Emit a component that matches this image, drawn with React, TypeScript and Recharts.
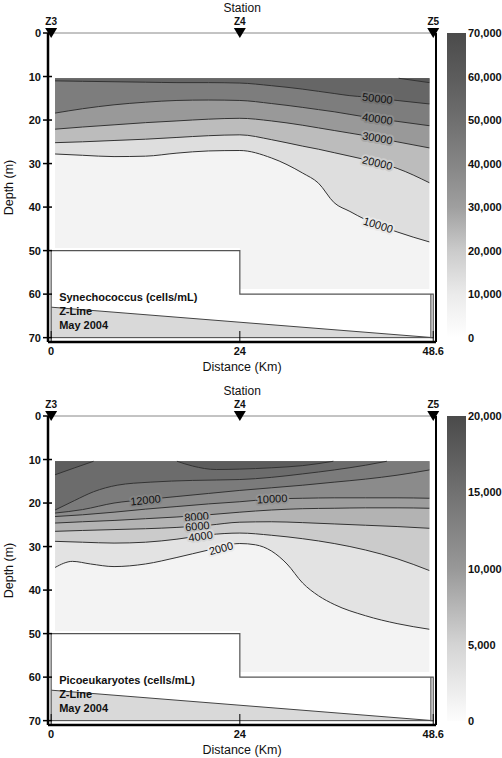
import React from "react";
import {
  ComposedChart,
  XAxis,
  YAxis,
  Area,
  Bar,
  Line,
  Scatter,
  ReferenceLine,
} from "recharts";

const FONT = '"Liberation Sans", Arial, sans-serif';

// transect layout: km along the Z-line, depth in m
const DIST_TICKS = [0, 24, 48.6];
const DEPTH_TICKS = [0, 10, 20, 30, 40, 50, 60, 70];
const STATION_X = [0, 24, 48.6];
const STATION_NAMES = ["Z3", "Z4", "Z5"];

// sampled grid (where the contoured field exists)
const GRID_TOP = 10.4;
const GRID_X = [0.5, 24, 48.1];
const GRID_BOTTOM = [49.4, 58.8, 58.8];

// bottom box and sea floor
const BOX_X = [0, 0, 24, 24, 48.6, 48.6, 48.3, 48.3];
const BOX_D = [70, 50, 50, 60, 60, 70, 70, 60];
const SEABED_X = [0, 48.6];
const SEABED_D = [63, 70];

// ---- Synechococcus contours (depth of each isoline)
const SYN_X = [0.5, 4, 8, 12, 16, 20, 24, 28, 32, 34, 36, 38, 40, 44, 48.1];
const SYN_10000 = [27.8, 28.1, 28.4, 28.3, 27.6, 27.1, 27.0, 28.7, 32.2, 34.5, 39.0, 41.0, 42.9, 45.7, 48.0];
const SYN_20000 = [25.2, 25.0, 24.7, 24.4, 24.0, 23.6, 23.4, 24.5, 26.0, 26.7, 27.5, 28.3, 29.1, 31.1, 34.4];
const SYN_30000 = [22.1, 21.6, 21.1, 20.6, 20.2, 19.8, 19.6, 20.2, 21.2, 21.8, 22.4, 23.0, 23.6, 25.0, 26.4];
const SYN_40000 = [18.4, 17.4, 16.5, 15.9, 15.5, 15.4, 15.5, 16.2, 17.1, 17.6, 18.1, 18.7, 19.3, 20.3, 21.3];
const SYN_50000 = [11.0, 11.1, 11.2, 11.3, 11.4, 11.4, 11.5, 12.1, 12.9, 13.4, 13.9, 14.4, 14.7, 15.5, 16.3];
const SYN_60000_X = [44.2, 48.1];
const SYN_60000 = [10.4, 11.4];

const SYN_LABELS = ["50000", "40000", "30000", "20000", "10000"];
const SYN_LABEL_X = [41.5, 41.5, 41.5, 41.5, 41.6];
const SYN_LABEL_D = [15.0, 19.7, 24.1, 29.8, 44.1];
const SYN_SCALE_TICKS = [0, 10000, 20000, 30000, 40000, 50000, 60000, 70000];
const SYN_NOTE = ["Synechococcus (cells/mL)", "Z-Line", "May 2004"];

// ---- Picoeukaryote contours
const PICO_X = [0.5, 4, 8, 12, 16, 20, 24, 28, 32, 36, 40, 44, 48.1];
const PICO_4000 = [28.8, 29.0, 29.2, 29.0, 28.3, 27.3, 26.9, 27.4, 28.2, 29.3, 30.8, 32.8, 35.5];
const PICO_6000 = [26.5, 26.3, 26.1, 25.9, 25.6, 25.1, 24.4, 24.3, 24.5, 24.8, 25.1, 25.4, 25.8];
const PICO_8000 = [24.6, 24.3, 24.0, 23.6, 23.2, 22.7, 22.1, 21.6, 21.3, 21.2, 21.1, 21.1, 21.2];
const PICO_10000 = [23.1, 22.7, 22.1, 21.4, 20.8, 20.2, 19.7, 19.1, 18.9, 18.8, 18.8, 18.8, 18.9];
const PICO_12000 = [22.3, 21.5, 20.0, 19.2, 18.5, 17.8, 17.1, 16.5, 15.9, 15.2, 14.5, 13.6, 12.4];
const PICO_2000_X = [0.5, 2.7, 5, 8, 12, 16, 20, 24, 26, 28, 30, 32, 34, 36, 40, 44, 48.1];
const PICO_2000 = [34.8, 33.4, 34.0, 34.6, 34.0, 32.5, 30.8, 29.3, 29.6, 31.0, 34.0, 38.4, 41.3, 43.3, 45.9, 47.7, 49.0];
const PICO_14000_X = [0.5, 3, 5.4, 8.4, 12.6, 18, 24, 28, 32, 36, 40, 42.7];
const PICO_14000 = [21.6, 19.4, 17.4, 15.9, 15.2, 14.8, 14.6, 14.1, 13.3, 12.4, 11.3, 10.4];
const PICO_16000A_X = [0.5, 3, 5.4];
const PICO_16000A = [13.5, 11.9, 10.4];
const PICO_16000B_X = [16, 18, 21, 24, 28, 32, 35.9];
const PICO_16000B = [10.4, 11.5, 12.3, 12.2, 11.9, 11.4, 10.4];

const PICO_LABELS = ["12000", "10000", "8000", "6000", "4000", "2000"];
const PICO_LABEL_X = [12.0, 28.1, 18.5, 18.6, 19.0, 21.6];
const PICO_LABEL_D = [19.3, 19.0, 23.1, 25.3, 27.6, 30.4];
const PICO_SCALE_TICKS = [0, 5000, 10000, 15000, 20000];
const PICO_NOTE = ["Picoeukaryotes (cells/mL)", "Z-Line", "May 2004"];

type Pt = { x: number; d: number };
const rows = (xs: number[], ds: number[]): Pt[] => xs.map((x, i) => ({ x, d: ds[i] }));

type Spec = {
  id: string;
  contours: { rows: Pt[]; fill: string }[];
  floorFill: string;
  labels: { x: number; d: number; text: string; angle: number; bg: string }[];
  scaleTicks: number[];
  scaleStops: [number, string][];
  note: string[];
};

const DepthTick = ({ x, y, payload }: any) => (
  <g>
    <line x1={x - 5} x2={x + 4} y1={y} y2={y} stroke="#000" strokeWidth={1.5} />
    <text x={x - 7} y={y} dy={4} textAnchor="end" fontSize={11} fontWeight="bold" fill="#111">
      {payload.value}
    </text>
  </g>
);

const CrossTick = ({ x, y }: any) => (
  <line x1={x - 4} x2={x + 4} y1={y} y2={y} stroke="#000" strokeWidth={1.5} />
);

const DistTick = ({ x, y, payload }: any) => (
  <g>
    <line x1={x} x2={x} y1={y - 11} y2={y} stroke="#000" strokeWidth={1} />
    <text x={x} y={y + 13} textAnchor="middle" fontSize={11} fontWeight="bold" fill="#111">
      {payload.value}
    </text>
  </g>
);

const ScaleTick = ({ x, y, payload }: any) => (
  <text x={x + 2} y={y} dy={4} fontSize={11} fontWeight="bold" fill="#111">
    {Number(payload.value).toLocaleString("en-US")}
  </text>
);

const StationMark = ({ cx, cy, payload }: any) => (
  <g>
    <polygon points={`${cx - 6},${cy - 5} ${cx + 6},${cy - 5} ${cx},${cy + 5}`} fill="#000" />
    <text x={cx} y={cy - 8} textAnchor="middle" fontSize={10} fontWeight="bold" fill="#111">
      {payload.name}
    </text>
  </g>
);

const ContourLabel = ({ cx, cy, payload }: any) => (
  <text
    x={cx}
    y={cy}
    dy={4}
    textAnchor="middle"
    fontSize={11}
    fill="#111"
    stroke={payload.bg}
    strokeWidth={4}
    strokeLinejoin="round"
    paintOrder="stroke"
    transform={`rotate(${payload.angle} ${cx} ${cy})`}
  >
    {payload.text}
  </text>
);

const NoteMark = ({ cx, cy, payload }: any) => (
  <text fontSize={11} fontWeight="bold" fill="#111">
    {payload.lines.map((t: string, i: number) => (
      <tspan key={i} x={cx + 8} y={cy - 37 + i * 14}>
        {t}
      </tspan>
    ))}
  </text>
);

// vertical colour bar, one bar spanning the whole value range
function ColourScale({ spec }: { spec: Spec }) {
  const max = spec.scaleTicks[spec.scaleTicks.length - 1];
  return (
    <ComposedChart
      width={55}
      height={345}
      data={[{ k: "scale", v: max }]}
      margin={{ top: 33, right: 0, bottom: 7, left: 0 }}
      barCategoryGap={0}
    >
      <defs>
        <linearGradient id={spec.id} x1="0" y1="0" x2="0" y2="1">
          {spec.scaleStops.map(([o, c]) => (
            <stop key={o} offset={o} stopColor={c} />
          ))}
        </linearGradient>
      </defs>
      <XAxis dataKey="k" hide />
      <YAxis
        orientation="right"
        type="number"
        domain={[0, max]}
        ticks={spec.scaleTicks}
        interval={0}
        width={36}
        tickSize={0}
        tickMargin={0}
        tickLine={false}
        axisLine={false}
        tick={(p: any) => <ScaleTick {...p} />}
      />
      <Bar dataKey="v" fill={`url(#${spec.id})`} isAnimationActive={false} />
    </ComposedChart>
  );
}

function Panel({ spec, height, bottom }: { spec: Spec; height: number; bottom: number }) {
  const stations = STATION_X.map((x, i) => ({ x, d: 0, name: STATION_NAMES[i] }));
  return (
    <div style={{ position: "relative", width: 502, height }}>
      <ComposedChart width={502} height={height} margin={{ top: 33, right: 0, bottom, left: 0 }}>
        <XAxis
          dataKey="x"
          type="number"
          domain={[-0.4, 48.95]}
          ticks={DIST_TICKS}
          interval={0}
          height={31}
          tickSize={0}
          tickMargin={0}
          tickLine={false}
          axisLine={{ stroke: "#000", strokeWidth: 2.5 }}
          tick={(p: any) => <DistTick {...p} />}
          label={{ value: "Distance (Km)", position: "insideBottom", offset: 2, fontSize: 12.5, fill: "#111" }}
        />
        <YAxis
          dataKey="d"
          type="number"
          reversed
          domain={[0, 71]}
          ticks={DEPTH_TICKS}
          interval={0}
          width={48}
          tickSize={0}
          tickMargin={0}
          tickLine={false}
          axisLine={{ stroke: "#000", strokeWidth: 2.5 }}
          tick={(p: any) => <DepthTick {...p} />}
          label={{
            value: "Depth (m)",
            angle: -90,
            position: "insideLeft",
            offset: 9,
            fontSize: 12.5,
            fill: "#111",
            style: { textAnchor: "middle" },
          }}
        />
        <YAxis
          yAxisId="r"
          orientation="right"
          type="number"
          reversed
          domain={[0, 71]}
          ticks={DEPTH_TICKS}
          interval={0}
          width={66}
          tickSize={0}
          tickMargin={0}
          tickLine={false}
          axisLine={{ stroke: "#000", strokeWidth: 2 }}
          tick={(p: any) => <CrossTick {...p} />}
        />

        {/* sea surface + station title */}
        <ReferenceLine
          segment={[{ x: 0, y: 0 }, { x: 48.6, y: 0 }]}
          stroke="#888"
          strokeWidth={1}
          label={{ value: "Station", position: "top", offset: 21, fontSize: 12, fill: "#111" }}
        />

        {/* filled contour field, painted from the weakest level upward */}
        <Area
          data={rows(GRID_X, GRID_BOTTOM)}
          dataKey={(p: Pt) => [GRID_TOP, p.d]}
          type="stepAfter"
          fill={spec.floorFill}
          fillOpacity={1}
          stroke="none"
          isAnimationActive={false}
        />
        {spec.contours.map((c, i) => (
          <Area
            key={`a${i}`}
            data={c.rows}
            dataKey={(p: Pt) => [GRID_TOP, p.d]}
            type="monotone"
            fill={c.fill}
            fillOpacity={1}
            stroke="none"
            isAnimationActive={false}
          />
        ))}

        {/* sea floor */}
        <Area
          data={rows(SEABED_X, SEABED_D)}
          dataKey={(p: Pt) => [70, p.d]}
          type="linear"
          fill="#d9d9d9"
          fillOpacity={1}
          stroke="#444"
          strokeWidth={1}
          isAnimationActive={false}
        />
        <Line
          data={rows(BOX_X, BOX_D)}
          dataKey="d"
          type="linear"
          stroke="#555"
          strokeWidth={1.2}
          dot={false}
          isAnimationActive={false}
        />

        {spec.contours.map((c, i) => (
          <Line
            key={`l${i}`}
            data={c.rows}
            dataKey="d"
            type="monotone"
            stroke="#333"
            strokeWidth={1}
            dot={false}
            isAnimationActive={false}
          />
        ))}

        <Scatter data={spec.labels} shape={(p: any) => <ContourLabel {...p} />} isAnimationActive={false} />
        <Scatter data={stations} shape={(p: any) => <StationMark {...p} />} isAnimationActive={false} />
        <Scatter
          data={[{ x: 0, d: 70, lines: spec.note }]}
          shape={(p: any) => <NoteMark {...p} />}
          isAnimationActive={false}
        />
      </ComposedChart>
      <div style={{ position: "absolute", left: 447, top: 0 }}>
        <ColourScale spec={spec} />
      </div>
    </div>
  );
}

const synSpec: Spec = {
  id: "synScale",
  floorFill: "#f3f3f3",
  contours: [
    { rows: rows(SYN_X, SYN_10000), fill: "#dedede" },
    { rows: rows(SYN_X, SYN_20000), fill: "#bcbcbc" },
    { rows: rows(SYN_X, SYN_30000), fill: "#999999" },
    { rows: rows(SYN_X, SYN_40000), fill: "#7d7d7d" },
    { rows: rows(SYN_X, SYN_50000), fill: "#666666" },
    { rows: rows(SYN_60000_X, SYN_60000), fill: "#585858" },
  ],
  labels: SYN_LABELS.map((text, i) => ({
    text,
    x: SYN_LABEL_X[i],
    d: SYN_LABEL_D[i],
    angle: [7, 8, 10, 13, 17][i],
    bg: ["#727272", "#8b8b8b", "#aaaaaa", "#cdcdcd", "#e9e9e9"][i],
  })),
  scaleTicks: SYN_SCALE_TICKS,
  scaleStops: [
    [0, "#4b4b4b"],
    [0.143, "#5c5c5c"],
    [0.286, "#6f6f6f"],
    [0.429, "#858585"],
    [0.571, "#9f9f9f"],
    [0.714, "#cbcbcb"],
    [0.857, "#ebebeb"],
    [1, "#ffffff"],
  ],
  note: SYN_NOTE,
};

const picoSpec: Spec = {
  id: "picoScale",
  floorFill: "#f3f3f3",
  contours: [
    { rows: rows(PICO_2000_X, PICO_2000), fill: "#e3e3e3" },
    { rows: rows(PICO_X, PICO_4000), fill: "#cbcbcb" },
    { rows: rows(PICO_X, PICO_6000), fill: "#b3b3b3" },
    { rows: rows(PICO_X, PICO_8000), fill: "#9d9d9d" },
    { rows: rows(PICO_X, PICO_10000), fill: "#8b8b8b" },
    { rows: rows(PICO_X, PICO_12000), fill: "#7b7b7b" },
    { rows: rows(PICO_14000_X, PICO_14000), fill: "#6c6c6c" },
    { rows: rows(PICO_16000A_X, PICO_16000A), fill: "#5d5d5d" },
    { rows: rows(PICO_16000B_X, PICO_16000B), fill: "#5d5d5d" },
  ],
  labels: PICO_LABELS.map((text, i) => ({
    text,
    x: PICO_LABEL_X[i],
    d: PICO_LABEL_D[i],
    angle: [-6, -3, -5, -5, -8, -15][i],
    bg: ["#838383", "#949494", "#a8a8a8", "#bfbfbf", "#d7d7d7", "#ebebeb"][i],
  })),
  scaleTicks: PICO_SCALE_TICKS,
  scaleStops: [
    [0, "#4a4a4a"],
    [0.25, "#717171"],
    [0.5, "#989898"],
    [0.75, "#d4d4d4"],
    [1, "#fdfdfd"],
  ],
  note: PICO_NOTE,
};

export default function App() {
  return (
    <div style={{ position: "absolute", left: 0, top: 0, width: 502, background: "#fff", fontFamily: FONT }}>
      <Panel spec={synSpec} height={383} bottom={10} />
      <Panel spec={picoSpec} height={375} bottom={2} />
    </div>
  );
}
